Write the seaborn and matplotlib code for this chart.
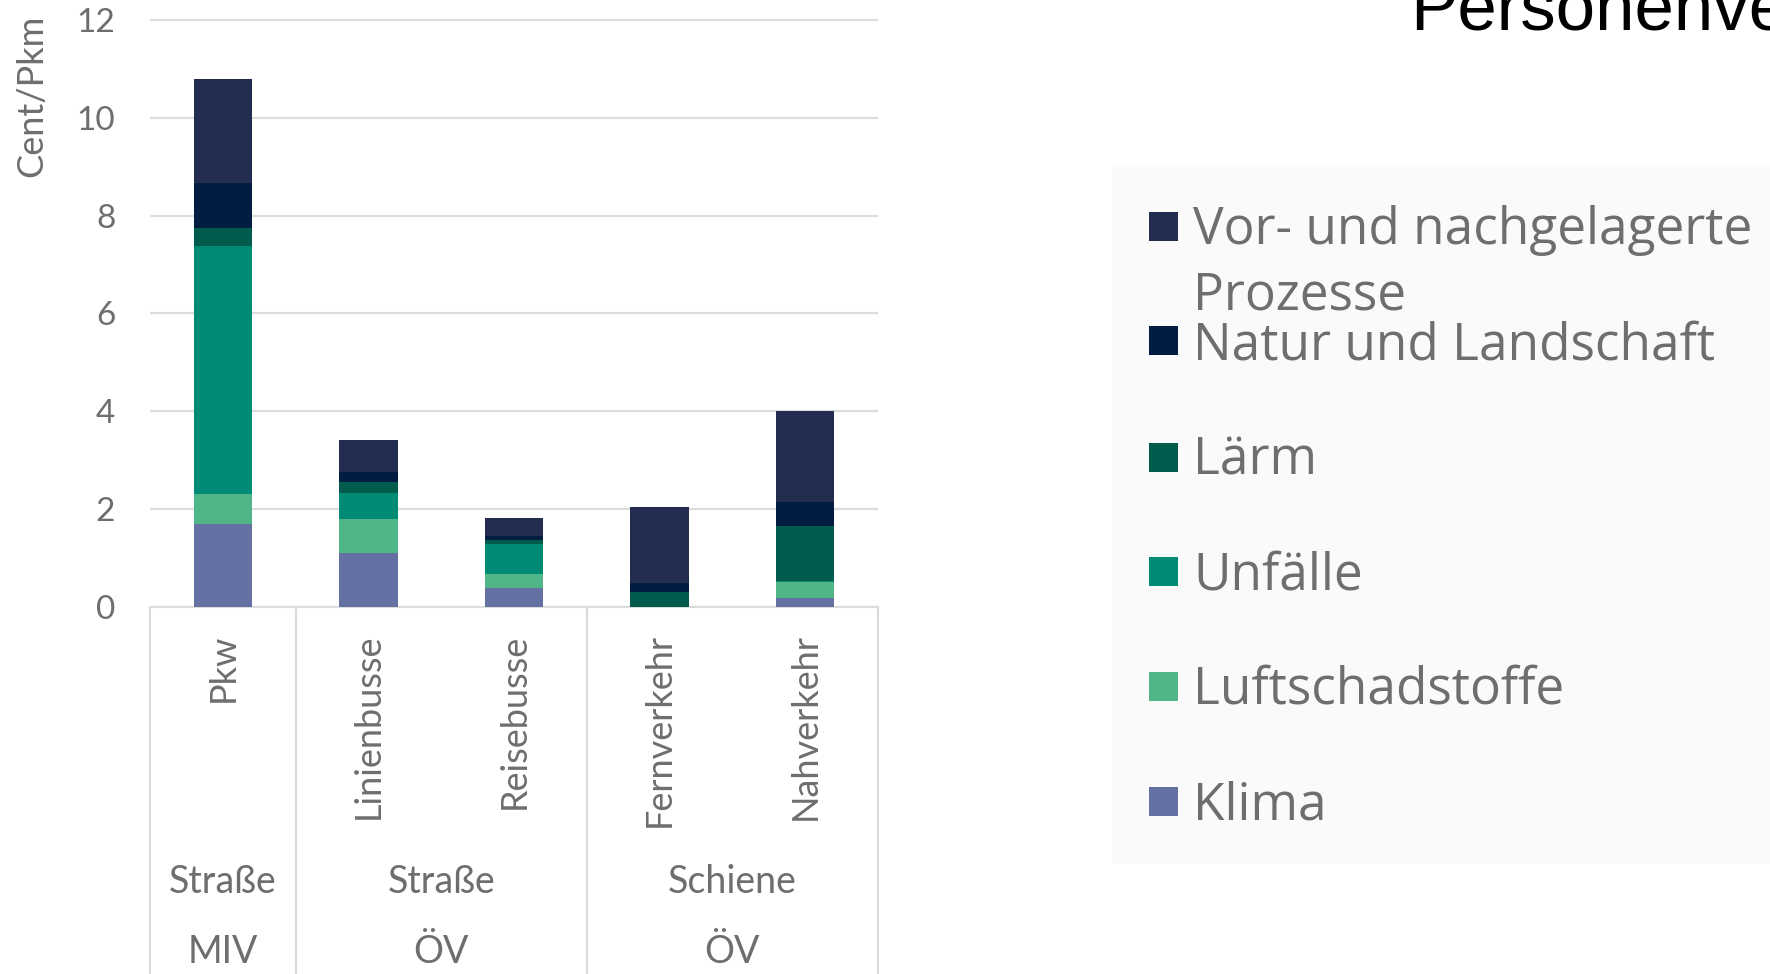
import numpy as np
import pandas as pd
import seaborn as sns
import matplotlib
matplotlib.use("Agg")
import matplotlib.pyplot as plt
from matplotlib.patches import Rectangle
from matplotlib.transforms import blended_transform_factory

# ---------------- data ----------------
categories = ["Pkw", "Linienbusse", "Reisebusse", "Fernverkehr", "Nahverkehr"]
group_mode = ["Straße", "Straße", "Schiene"]
group_type = ["MIV", "ÖV", "ÖV"]
group_centers = [0, 1.5, 3.5]
group_edges = [-0.5, 0.5, 2.5, 4.5]

klima = [1.70, 1.11, 0.39, 0.00, 0.19]
luftschadstoffe = [0.61, 0.68, 0.29, 0.00, 0.32]
unfaelle = [5.06, 0.55, 0.61, 0.00, 0.02]
laerm = [0.37, 0.21, 0.07, 0.31, 1.12]
natur = [0.92, 0.20, 0.10, 0.19, 0.50]
vor_nach = [2.13, 0.66, 0.36, 1.55, 1.86]

series_names = ["Klima", "Luftschadstoffe", "Unfälle", "Lärm",
                "Natur und Landschaft", "Vor- und nachgelagerte\nProzesse"]
series_values = [klima, luftschadstoffe, unfaelle, laerm, natur, vor_nach]
series_colors = ["#6571a2", "#51b687", "#018a74", "#025c4d", "#011d42", "#222d4f"]

y_ticks = [0, 2, 4, 6, 8, 10, 12]
y_label = "Cent/Pkm"
title = "Personenverkehr"

# ---------------- style ----------------
sns.set_theme(style="white")
plt.rcParams["font.family"] = ["Lato", "DejaVu Sans"]
GRAY = "#6e6e6e"
LINE = "#dcdcdc"

W, H = 1770, 974
fig = plt.figure(figsize=(W / 100, H / 100), dpi=100)
fig.patch.set_facecolor("white")

px_per_unit = 48.92
y0_px = 607
ymax = 12.4
ax_h = ymax * px_per_unit
ax = fig.add_axes([150 / W, 1 - y0_px / H, 728 / W, ax_h / H])
ax.set_facecolor("none")

# stacked bars via cumulative sums, drawn top layer first
cum = np.cumsum(np.array(series_values), axis=0)
for i in range(len(series_names) - 1, -1, -1):
    df = pd.DataFrame({"cat": categories, "val": cum[i]})
    sns.barplot(data=df, x="cat", y="val", order=categories, color=series_colors[i],
                saturation=1, width=0.40, errorbar=None, ax=ax,
                edgecolor="none", linewidth=0, zorder=3)

ax.set_xlim(-0.5, 4.5)
ax.set_ylim(0, ymax)
ax.set_yticks(y_ticks)
ax.yaxis.grid(True, color=LINE, linewidth=1.6, zorder=0)
ax.xaxis.grid(False)
ax.set_axisbelow(True)
for s in ["top", "right", "left"]:
    ax.spines[s].set_visible(False)
ax.spines["bottom"].set_color(LINE)
ax.spines["bottom"].set_linewidth(1.6)
ax.set_xlabel("")
ax.set_ylabel("")

ax.tick_params(axis="y", length=0, pad=25, labelsize=24, labelcolor=GRAY)
ax.tick_params(axis="x", length=0, pad=19, labelsize=26, labelcolor=GRAY)
ax.set_xticks(range(len(categories)))
ax.set_xticklabels(categories, rotation=90, va="top", ha="center")

# category separators below the axis
tr = blended_transform_factory(ax.transData, fig.transFigure)
for xe in group_edges:
    ax.plot([xe, xe], [0, 1 - y0_px / H], transform=tr, color=LINE,
            linewidth=1.6, clip_on=False, zorder=1)

for xc, m, t in zip(group_centers, group_mode, group_type):
    ax.text(xc, 1 - 882 / H, m, transform=tr, ha="center", va="center",
            fontsize=27, color=GRAY)
    ax.text(xc, 1 - 952 / H, t, transform=tr, ha="center", va="center",
            fontsize=27, color=GRAY)

# y label
fig.text(32 / W, 1 - 96 / H, y_label, rotation=90, ha="center", va="center",
         fontsize=26, color=GRAY)

# title (cut by figure border like the reference)
fig.text(1410 / W, 1 - 29 / H, title, ha="left", va="baseline",
         fontsize=51, color="black", family=["Liberation Sans", "DejaVu Sans"])

# legend panel
fig.patches.append(Rectangle((1112 / W, 1 - 864 / H), (W - 1112) / W, 697 / H,
                             transform=fig.transFigure, facecolor="#fafafa",
                             edgecolor="none", zorder=0))
entry_centers = [226, 341, 457, 571, 686, 801]
legend_order = list(range(len(series_names) - 1, -1, -1))
sq = 29
line_step = 65
for yc, idx in zip(entry_centers, legend_order):
    fig.patches.append(Rectangle((1149 / W, 1 - (yc + sq / 2) / H), sq / W, sq / H,
                                 transform=fig.transFigure,
                                 facecolor=series_colors[idx], edgecolor="none"))
    lines = series_names[idx].split("\n")
    for k, txt in enumerate(lines):
        base = yc + 18 + k * line_step
        fig.text(1193 / W, 1 - base / H, txt, ha="left", va="baseline",
                 fontsize=37, color=GRAY, family=["Open Sans", "DejaVu Sans"])

fig.savefig("out.png", dpi=100)
